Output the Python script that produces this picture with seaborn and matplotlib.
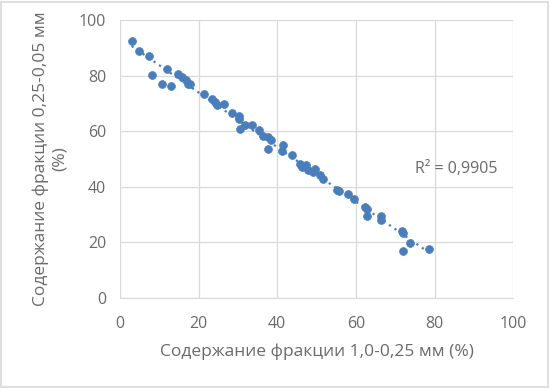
import matplotlib
matplotlib.use("Agg")
import matplotlib.pyplot as plt
import seaborn as sns
import pandas as pd

# fraction 1,0-0,25 mm (%) vs fraction 0,25-0,05 mm (%)
frac_coarse = [3.0, 4.9, 7.3, 8.2, 10.7, 11.9, 13.0, 14.8, 15.8, 16.8, 17.2, 17.8,
               21.4, 23.3, 24.2, 24.6, 26.5, 28.4, 30.3, 30.3, 30.5, 31.8, 33.5,
               35.4, 36.5, 37.7, 38.5, 37.7, 41.5, 41.1, 43.7, 45.8, 46.2, 47.2,
               47.9, 49.6, 49.2, 50.9, 51.7, 55.1, 55.6, 58.1, 59.5, 62.3, 62.9,
               62.9, 66.5, 66.3, 71.7, 72.1, 73.8, 71.9, 78.5]
frac_fine = [92.5, 89.0, 87.2, 80.2, 77.1, 82.4, 76.4, 80.8, 79.6, 78.4, 77.0, 77.2,
             73.3, 71.8, 70.5, 69.4, 69.8, 66.7, 65.5, 64.3, 61.0, 62.2, 62.2,
             60.4, 58.4, 58.0, 56.8, 53.5, 55.2, 53.0, 51.4, 48.4, 47.2, 47.8,
             46.0, 46.3, 45.5, 44.2, 43.0, 38.8, 38.5, 37.4, 35.5, 32.9, 31.9,
             29.5, 29.5, 28.1, 24.2, 23.5, 19.7, 17.0, 17.6]
r2_label = "R² = 0,9905"

df = pd.DataFrame({"x": frac_coarse, "y": frac_fine})

sns.set_style("white")
plt.rcParams['font.family'] = ['Open Sans', 'DejaVu Sans']

blue = "#4a7ebb"
grey = "#6a6a6a"

fig = plt.figure(figsize=(5.5, 3.88), dpi=100)
fig.patches.append(plt.Rectangle((0.002, 0.003), 0.995, 0.993, transform=fig.transFigure,
                                 fill=False, edgecolor="#d9d9d9", linewidth=1.2))
ax = fig.add_axes([0.218, 0.232, 0.715, 0.716])

sns.regplot(data=df, x="x", y="y", scatter=False, ci=None, ax=ax,
            line_kws={"color": blue, "linestyle": (0, (1, 2)), "linewidth": 1.6})
sns.scatterplot(data=df, x="x", y="y", ax=ax, color=blue, s=32, edgecolor=blue,
                linewidth=0.5, zorder=3)

ax.set_xlim(0, 100)
ax.set_ylim(0, 100)
ax.set_xticks(range(0, 101, 20))
ax.set_yticks(range(0, 101, 20))
ax.grid(True, color="#d9d9d9", linewidth=0.9)
for s in ["top", "right", "left"]:
    ax.spines[s].set_visible(False)
ax.spines["bottom"].set_color("#d9d9d9")
ax.tick_params(axis="both", length=0, labelsize=11.5, labelcolor=grey)
ax.tick_params(axis="x", pad=13)
ax.tick_params(axis="y", pad=10)

ax.set_xlabel("Содержание фракции 1,0-0,25 мм (%)", fontsize=12.5, color=grey, labelpad=8)
ax.set_ylabel("Содержание фракции 0,25-0,05 мм\n(%)", fontsize=12.5, color=grey, labelpad=8)

ax.text(75, 45, r2_label, fontsize=11.5, color=grey)

fig.savefig("out.png", dpi=100)
